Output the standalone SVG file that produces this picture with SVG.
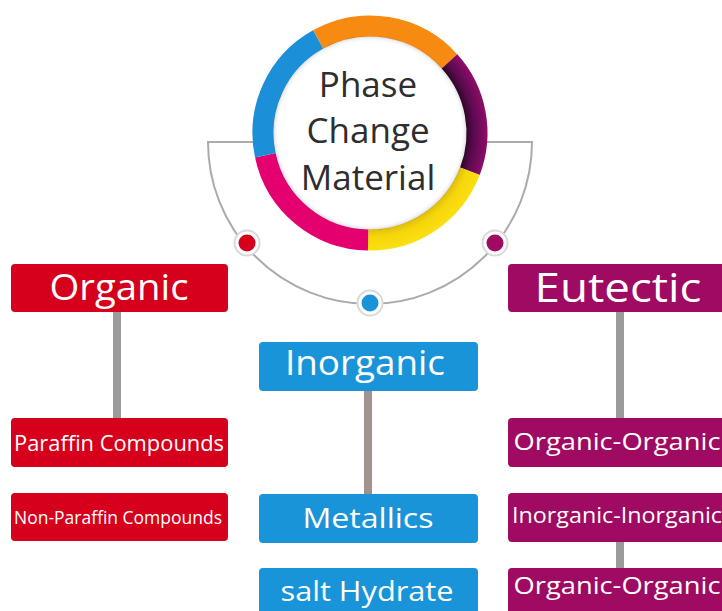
<svg xmlns="http://www.w3.org/2000/svg" width="722" height="611" viewBox="0 0 722 611">
  <defs>
    <style>
      .box-red { fill: #d6001c; }
      .box-blue { fill: #1a94d8; }
      .box-purple { fill: #9f0a62; }
      .lbl { font-family: "Open Sans", "Noto Sans", "Liberation Sans", sans-serif; fill: #ffffff; text-anchor: middle; }
      .title { font-family: "Open Sans", "Noto Sans", "Liberation Sans", sans-serif; fill: #2e2e2e; text-anchor: middle; font-size: 35px; }
      .seg { fill: none; stroke-width: 21; }
      .link { stroke-width: 8; fill: none; }
      .halo { fill: #ffffff; stroke: #d9d9d9; stroke-width: 2; }
    </style>
    <!-- purple arc is darker on its inner edge -->
    <radialGradient id="purpleShade" gradientUnits="userSpaceOnUse" cx="370" cy="133" r="118">
      <stop offset="0.8" stop-color="#24051f"/>
      <stop offset="0.88" stop-color="#5a0a4e"/>
      <stop offset="1" stop-color="#900c6b"/>
    </radialGradient>
    <radialGradient id="yellowShade" gradientUnits="userSpaceOnUse" cx="370" cy="133" r="118">
      <stop offset="0.8" stop-color="#d9b80a"/>
      <stop offset="0.88" stop-color="#f5d60c"/>
      <stop offset="1" stop-color="#fbe010"/>
    </radialGradient>
    <filter id="soft" x="-20%" y="-20%" width="140%" height="140%">
      <feGaussianBlur stdDeviation="2.5"/>
    </filter>
    <clipPath id="innerClip">
      <circle cx="370" cy="133" r="97"/>
    </clipPath>
  </defs>

  <rect width="722" height="611" fill="#ffffff"/>

  <!-- connectors -->
  <g id="connectors">
    <path d="M253,142 H208 A162,162 0 0 0 532,142 H487" fill="none" stroke="#ababab" stroke-width="2"/>
    <line class="link" x1="117" y1="311" x2="117" y2="419" stroke="#9b9b9b"/>
    <line class="link" x1="368" y1="390" x2="368" y2="495" stroke="#a0928f"/>
    <line class="link" x1="620" y1="311" x2="620" y2="419" stroke="#9b9b9b"/>
    <line class="link" x1="620" y1="541" x2="620" y2="569" stroke="#9b9b9b"/>
  </g>

  <!-- central ring -->
  <g id="phase-change-material">
    <circle cx="370" cy="133" r="97" fill="#ffffff"/>
    <path class="seg" stroke="#f78a10" d="M318.1,39.4 A107,107 0 0 1 449.5,61.4"/>
    <path class="seg" stroke="url(#purpleShade)" d="M449.5,61.4 A107,107 0 0 1 469.9,171.3"/>
    <path class="seg" stroke="url(#yellowShade)" d="M469.9,171.3 A107,107 0 0 1 368.1,240.0"/>
    <path class="seg" stroke="#e4006f" d="M368.1,240.0 A107,107 0 0 1 265.3,155.2"/>
    <path class="seg" stroke="#1b90d8" d="M265.3,155.2 A107,107 0 0 1 318.1,39.4"/>
    <!-- soft inner shadow of the ring -->
    <g clip-path="url(#innerClip)">
      <circle cx="370" cy="133" r="99" fill="none" stroke="#000000" stroke-opacity="0.3" stroke-width="4" filter="url(#soft)"/>
    </g>
    <text class="title" x="368" y="97">Phase</text>
    <text class="title" x="368" y="143">Change</text>
    <text class="title" x="368" y="190">Material</text>
  </g>

  <!-- junction dots -->
  <g id="dot-organic">
    <circle class="halo" cx="247" cy="243" r="12.5"/>
    <circle cx="247" cy="243" r="8.5" fill="#d6001c"/>
  </g>
  <g id="dot-inorganic">
    <circle class="halo" cx="370" cy="303" r="12.5"/>
    <circle cx="370" cy="303" r="8.5" fill="#1a94d8"/>
  </g>
  <g id="dot-eutectic">
    <circle class="halo" cx="495" cy="243" r="12.5"/>
    <circle cx="495" cy="243" r="8.5" fill="#9f0a62"/>
  </g>

  <!-- organic branch -->
  <g id="organic">
    <rect class="box-red" x="11" y="264" width="217" height="48" rx="4"/>
    <text class="lbl" x="119" y="300" font-size="36" textLength="139" lengthAdjust="spacingAndGlyphs">Organic</text>
  </g>
  <g id="paraffin">
    <rect class="box-red" x="11" y="418" width="217" height="49" rx="4"/>
    <text class="lbl" x="119" y="451" font-size="21" textLength="210" lengthAdjust="spacingAndGlyphs">Paraffin Compounds</text>
  </g>
  <g id="non-paraffin">
    <rect class="box-red" x="11" y="493" width="217" height="48" rx="4"/>
    <text class="lbl" x="118" y="524" font-size="18" textLength="208" lengthAdjust="spacingAndGlyphs">Non-Paraffin Compounds</text>
  </g>

  <!-- inorganic branch -->
  <g id="inorganic">
    <rect class="box-blue" x="259" y="342" width="219" height="49" rx="4"/>
    <text class="lbl" x="365" y="375" font-size="35" textLength="160" lengthAdjust="spacingAndGlyphs">Inorganic</text>
  </g>
  <g id="metallics">
    <rect class="box-blue" x="259" y="494" width="219" height="49" rx="4"/>
    <text class="lbl" x="368" y="528" font-size="27" textLength="131" lengthAdjust="spacingAndGlyphs">Metallics</text>
  </g>
  <g id="salt-hydrate">
    <rect class="box-blue" x="259" y="568" width="219" height="60" rx="4"/>
    <text class="lbl" x="367" y="601" font-size="27" textLength="173" lengthAdjust="spacingAndGlyphs">salt Hydrate</text>
  </g>

  <!-- eutectic branch -->
  <g id="eutectic">
    <rect class="box-purple" x="508" y="264" width="224" height="48" rx="4"/>
    <text class="lbl" x="618" y="302" font-size="40" textLength="167" lengthAdjust="spacingAndGlyphs">Eutectic</text>
  </g>
  <g id="organic-organic-1">
    <rect class="box-purple" x="508" y="418" width="224" height="49" rx="4"/>
    <text class="lbl" x="617" y="450" font-size="24" textLength="207" lengthAdjust="spacingAndGlyphs">Organic-Organic</text>
  </g>
  <g id="inorganic-inorganic">
    <rect class="box-purple" x="508" y="493" width="224" height="49" rx="4"/>
    <text class="lbl" x="617" y="523" font-size="22" textLength="210" lengthAdjust="spacingAndGlyphs">Inorganic-Inorganic</text>
  </g>
  <g id="organic-organic-2">
    <rect class="box-purple" x="508" y="568" width="224" height="60" rx="4"/>
    <text class="lbl" x="617" y="594" font-size="24" textLength="207" lengthAdjust="spacingAndGlyphs">Organic-Organic</text>
  </g>
</svg>
